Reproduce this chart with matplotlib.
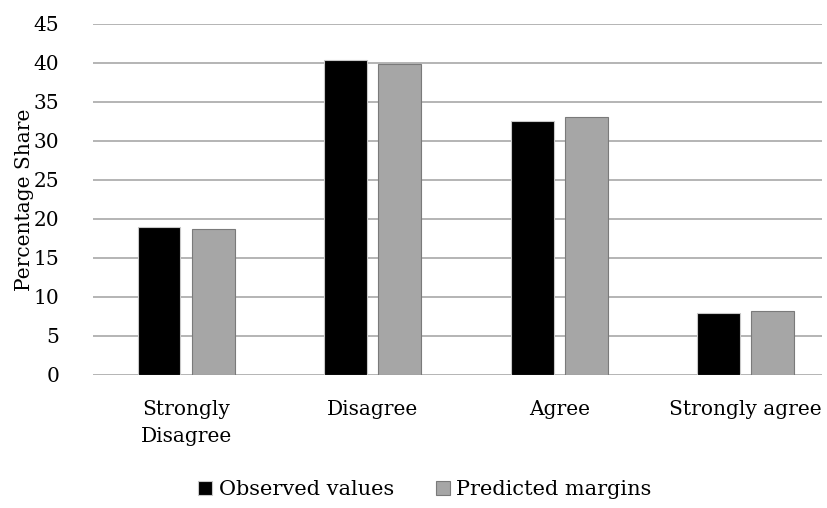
import numpy as np
import matplotlib.pyplot as plt

categories = ['Strongly\nDisagree', 'Disagree', 'Agree', 'Strongly agree']
observed = [18.9, 40.4, 32.5, 7.9]
predicted = [18.7, 39.8, 33.0, 8.2]

plt.rcParams['font.family'] = ['DejaVu Serif']
plt.rcParams['font.size'] = 14.5

fig = plt.figure(figsize=(8.28, 5.08), dpi=100)
ax = fig.add_axes([0.112, 0.262, 0.881, 0.691])

x = np.arange(len(categories))
w = 0.23
gap = 0.06
ax.bar(x - (w + gap) / 2, observed, w, color='black', edgecolor='#c8c8c8',
       linewidth=0.8, label='Observed values', zorder=3)
ax.bar(x + (w + gap) / 2, predicted, w, color='#a6a6a6', edgecolor='#7a7a7a',
       linewidth=0.8, label='Predicted margins', zorder=3)

ax.set_ylim(0, 45)
ax.set_xlim(-0.5, 3.41)
ax.set_yticks(range(0, 46, 5))
ax.yaxis.grid(True, color='#b4b4b4', linewidth=1.4, zorder=0)
for s in ax.spines.values():
    s.set_visible(False)
ax.tick_params(axis='both', length=0)
ax.tick_params(axis='y', pad=24)
ax.tick_params(axis='x', pad=18)
ax.set_xticks(x)
ax.set_xticklabels(categories, linespacing=1.55)
ax.set_ylabel('Percentage Share', labelpad=0)

fig.legend(loc='lower center', ncol=2, bbox_to_anchor=(0.513, -0.02), frameon=False,
           fontsize=15, handlelength=0.7, handleheight=0.7, handletextpad=0.3,
           columnspacing=2.0)

fig.savefig('out.png', dpi=100)
